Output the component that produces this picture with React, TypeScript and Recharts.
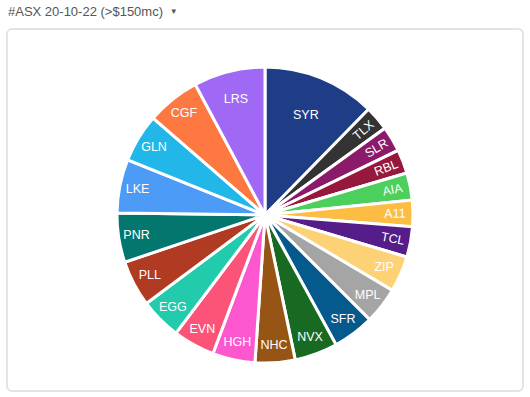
import { Cell, Pie, PieChart } from 'recharts'

const TICKERS = ['SYR', 'TLX', 'SLR', 'RBL', 'AIA', 'A11', 'TCL', 'ZIP', 'MPL', 'SFR', 'NVX', 'NHC', 'HGH', 'EVN', 'EGG', 'PLL', 'PNR', 'LKE', 'GLN', 'CGF', 'LRS']
const SHARES = [44.4, 9.7, 10.0, 9.4, 10.7, 10.4, 11.9, 14.1, 14.4, 16.3, 16.9, 15.7, 16.7, 16.4, 16.3, 18.1, 19.4, 21.1, 19.0, 21.0, 28.1]
const COLORS = [
  '#1f3d87', '#333333', '#8b1a6b', '#96183c', '#4ccf5c', '#fdbd43', '#561c89',
  '#fdd276', '#a5a5a5', '#045a8d', '#186a23', '#965415', '#fd57cf', '#fc5478',
  '#21cbac', '#b13a23', '#03776e', '#4c9bf7', '#21b7e8', '#fe7942', '#9f68f5',
]

const data = TICKERS.map((name, i) => ({ name, value: SHARES[i] }))

const RADIAN = Math.PI / 180

function SliceLabel(props: any) {
  const { cx, cy, midAngle, startAngle, endAngle, name } = props
  const sweep = Math.abs(endAngle - startAngle)
  const r = sweep > 40 ? 108 : sweep > 25 ? 120 : 130
  const x = cx + r * Math.cos(-midAngle * RADIAN)
  const y = cy + r * Math.sin(-midAngle * RADIAN)
  const rotate = sweep < 13 ? -midAngle : 0
  return (
    <text
      x={x}
      y={y}
      fill="#fff"
      textAnchor="middle"
      dominantBaseline="central"
      fontSize={12.5}
      fontFamily='"Liberation Sans", Arial, sans-serif'
      transform={`rotate(${rotate} ${x} ${y})`}
    >
      {name}
    </text>
  )
}

export default function App() {
  return (
    <div style={{ position: 'fixed', left: 0, top: 0, width: 530, height: 397, background: '#fff', fontFamily: '"Liberation Sans", Arial, sans-serif' }}>
      <div style={{ position: 'absolute', left: 8, top: 4, fontSize: 13, color: '#555', lineHeight: '16px' }}>
        #ASX 20-10-22 (&gt;$150mc) <span style={{ fontSize: 8, marginLeft: 3, verticalAlign: 2 }}>▼</span>
      </div>
      <div
        style={{
          position: 'absolute',
          left: 6,
          top: 28,
          width: 514,
          height: 360,
          border: '2px solid #e4e4e4',
          borderRadius: 6,
        }}
      />
      <div style={{ position: 'absolute', left: 0, top: 0 }}>
        <PieChart width={530} height={397} margin={{ top: 0, right: 0, bottom: 0, left: 0 }}>
          <Pie
            data={data}
            dataKey="value"
            nameKey="name"
            cx={265}
            cy={215}
            outerRadius={148}
            startAngle={90}
            endAngle={-270}
            stroke="#fff"
            strokeWidth={3}
            label={SliceLabel}
            labelLine={false}
            isAnimationActive={false}
          >
            {data.map((d, i) => (
              <Cell key={d.name} fill={COLORS[i]} />
            ))}
          </Pie>
        </PieChart>
      </div>
    </div>
  )
}
